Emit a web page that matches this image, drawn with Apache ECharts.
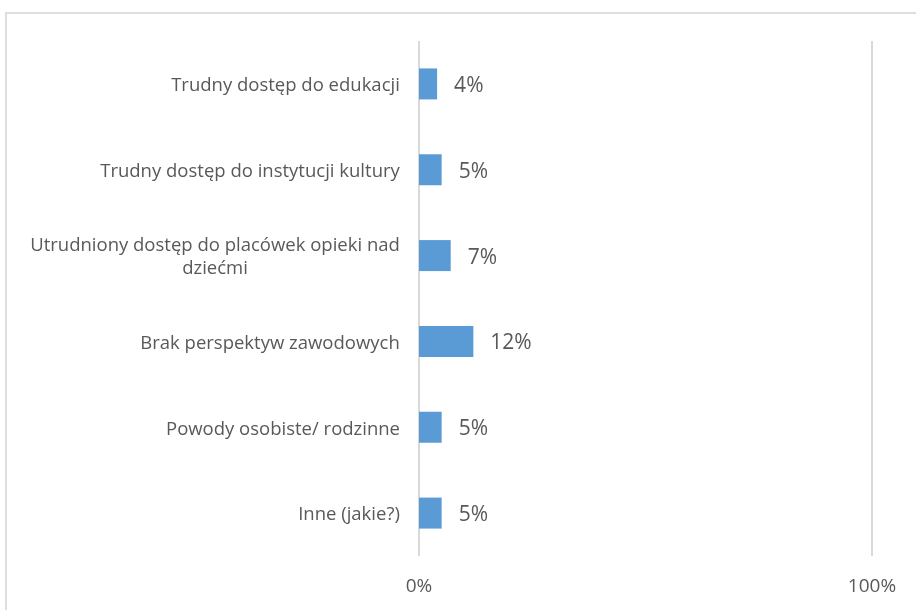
<!DOCTYPE html>
<html><head><meta charset="utf-8">
<script src="https://cdn.jsdelivr.net/npm/echarts@6/dist/echarts.min.js"></script>
<style>html,body{margin:0;padding:0;background:#fff}#c{width:916px;height:610px}</style>
</head><body><div id="c"></div>
<script>
const categories = [
  "Trudny dostęp do edukacji",
  "Trudny dostęp do instytucji kultury",
  "Utrudniony dostęp do placówek opieki nad\ndziećmi",
  "Brak perspektyw zawodowych",
  "Powody osobiste/ rodzinne",
  "Inne (jakie?)"
];
const values = [4, 5, 7, 12, 5, 5];
const tickLabels = ["0%", "100%"];

const FONT = '"Open Sans", sans-serif';
const CAT_SIZE = 18.5;
const LINE_H = 23;
const TEXT_COLOR = '#595959';
const ctx = document.createElement('canvas').getContext('2d');
ctx.font = CAT_SIZE + 'px ' + FONT;
function blockWidth(s) {
  return Math.max.apply(null, s.split('\n').map(l => ctx.measureText(l).width));
}
const rich = {};
categories.forEach((c, i) => {
  rich['w' + i] = {width: Math.ceil(blockWidth(c)), align: 'center', color: TEXT_COLOR,
                   fontSize: CAT_SIZE, fontFamily: FONT, lineHeight: LINE_H};
});

const chart = echarts.init(document.getElementById('c'), null, {renderer: 'canvas'});
chart.setOption({
  backgroundColor: '#fff',
  animation: false,
  graphic: [{
    type: 'rect', silent: true, z: -1,
    shape: {x: 6, y: 13, width: 1000, height: 1000},
    style: {fill: 'none', stroke: '#dedede', lineWidth: 2}
  }],
  grid: {left: 419, right: 44, top: 41, bottom: 54, containLabel: false},
  xAxis: {
    type: 'value', min: 0, max: 100, interval: 100,
    axisLine: {show: false}, axisTick: {show: false},
    splitLine: {show: true, lineStyle: {color: '#d9d9d9', width: 2}},
    axisLabel: {
      margin: 21, color: TEXT_COLOR, fontSize: 19, fontFamily: FONT,
      formatter: v => v === 0 ? tickLabels[0] : (v === 100 ? tickLabels[1] : '')
    }
  },
  yAxis: {
    type: 'category', inverse: true, data: categories,
    axisLine: {show: false}, axisTick: {show: false}, splitLine: {show: false},
    axisLabel: {
      margin: 19, color: TEXT_COLOR, fontSize: CAT_SIZE, fontFamily: FONT, lineHeight: LINE_H,
      padding: [4, 0, 0, 0],
      formatter: (v, idx) => v.split('\n').map(s => '{w' + idx + '|' + s + '}').join('\n'),
      rich: rich
    }
  },
  series: [{
    type: 'bar', data: values, barWidth: 31,
    itemStyle: {color: '#5b9bd5'},
    label: {
      show: true, position: 'right', distance: 17, offset: [0, 2],
      color: TEXT_COLOR, fontSize: 21, fontFamily: FONT,
      formatter: p => p.value + '%'
    }
  }]
});
</script></body></html>
